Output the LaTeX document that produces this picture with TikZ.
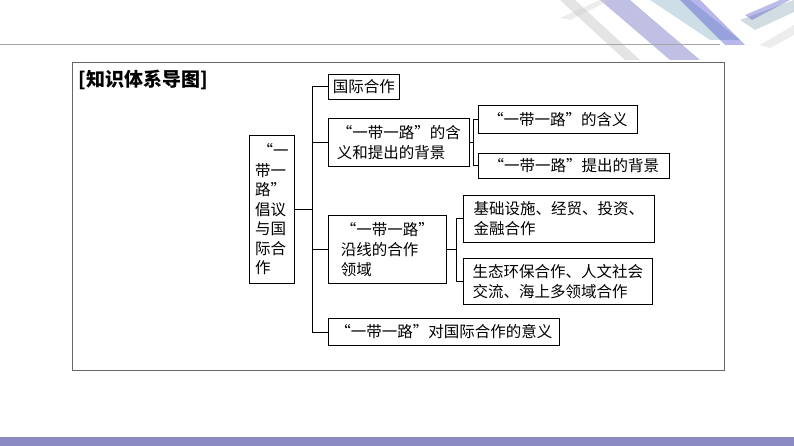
\documentclass[tikz,border=0pt]{standalone}
\usepackage{fontspec}
\setmainfont{Noto Sans CJK SC}
\begin{document}
\begin{tikzpicture}[x=1pt,y=-1pt,
  bx/.style={draw,line width=0.8pt,inner sep=2pt,font=\fontsize{15.5}{20}\selectfont,align=left,anchor=north west},
  ln/.style={line width=0.8pt}]
\useasboundingbox (0,0) rectangle (794,446);
\fill[white] (0,0) rectangle (794,446);
% top decoration
\begin{scope}[opacity=0.35]
\fill[blue!40!gray] (600,0) -- (630,0) -- (700,60) -- (670,60) -- cycle;
\fill[cyan!40!gray] (650,0) -- (690,0) -- (740,40) -- (710,40) -- cycle;
\fill[blue!60!gray] (680,0) -- (700,0) -- (745,45) -- (725,45) -- cycle;
\fill[gray!60] (560,0) -- (575,0) -- (640,60) -- (625,60) -- cycle;
\fill[cyan!30!gray] (740,20) -- (794,0) -- (794,12) -- (755,30) -- cycle;
\fill[blue!50!gray] (745,15) -- (780,0) -- (790,0) -- (752,20) -- cycle;
\fill[gray!40] (760,45) -- (794,25) -- (794,35) -- (770,48) -- cycle;
\fill[gray!40] (560,18) -- (600,0) -- (610,0) -- (570,20) -- cycle;
\end{scope}
\draw[gray!70,line width=0.8pt] (0,44) -- (720,44);
\fill[blue!30!gray!70] (0,437) rectangle (794,446);
% frame
\draw[gray!80!black,line width=0.8pt] (72,62) rectangle (724,370);
\node[anchor=west,font=\fontsize{19}{21}\selectfont\bfseries] (title) at (75,80) {[知识体系导图]};
% nodes
\node[bx,minimum width=45pt,minimum height=148pt,font=\fontsize{15.5}{19.5}\selectfont] (root) at (249,135) {\,“一\\带一\\路”\\倡议\\与国\\际合\\作};
\node[bx,minimum width=71pt,minimum height=25pt] (a) at (328,74) {国际合作};
\node[bx,minimum width=141pt,minimum height=48pt] (b) at (328,118) {“一带一路”的含\\义和提出的背景};
\node[bx,minimum width=118pt,minimum height=68pt] (c) at (328,215) {“一带一路”\\沿线的合作\\领域};
\node[bx,minimum width=231pt,minimum height=27pt] (d) at (328,318) {“一带一路”对国际合作的意义};
\node[bx,minimum width=159pt,minimum height=28pt] (b1) at (478,105) {“一带一路”的含义};
\node[bx,minimum width=191pt,minimum height=25pt] (b2) at (478,153) {“一带一路”提出的背景};
\node[bx,minimum width=191pt,minimum height=47pt] (c1) at (463,195) {基础设施、经贸、投资、\\金融合作};
\node[bx,minimum width=189pt,minimum height=46pt] (c2) at (463,258) {生态环保合作、人文社会\\交流、海上多领域合作};
% connectors
\coordinate (t) at (312,0);
\draw[ln] (root.east) -- (root.east -| t);
\draw[ln] (a.west -| t) -- (d.west -| t);
\foreach \n in {a,b,c,d} \draw[ln] (\n.west -| t) -- (\n.west);
\coordinate (u) at (473,0);
\draw[ln] (b.east) -- (b.east -| u);
\draw[ln] (b1.west -| u) -- (b2.west -| u);
\draw[ln] (b1.west -| u) -- (b1.west);
\draw[ln] (b2.west -| u) -- (b2.west);
\coordinate (v) at (456,0);
\draw[ln] (c.east) -- (c.east -| v);
\draw[ln] (c1.west -| v) -- (c2.west -| v);
\draw[ln] (c1.west -| v) -- (c1.west);
\draw[ln] (c2.west -| v) -- (c2.west);
\end{tikzpicture}
\end{document}
